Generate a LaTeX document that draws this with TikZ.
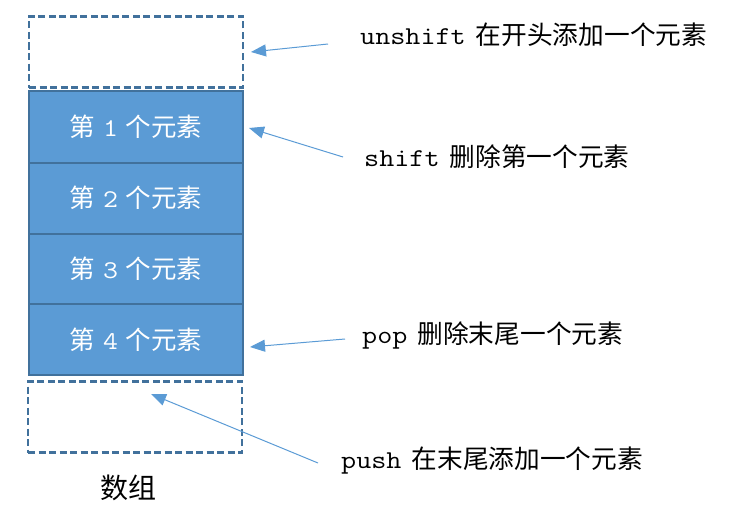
\documentclass[tikz,border=0pt]{standalone}
\usepackage{fontspec}
\setmainfont{Noto Sans CJK SC}
\setmonofont[FakeStretch=1.14]{Latin Modern Mono}
\usetikzlibrary{arrows.meta}
\definecolor{cellfill}{HTML}{5B9BD5}
\definecolor{celledge}{HTML}{41719C}
\definecolor{arrowblue}{HTML}{5B9BD5}
\tikzset{
  cell/.style={fill=cellfill, minimum width=214pt, minimum height=71pt, inner sep=0pt, text=white, font=\fontsize{25.5}{30}\selectfont},
  edge/.style={draw=celledge, line width=2pt},
  slot/.style={draw=celledge, dash pattern=on 7pt off 3.5pt, line width=2.2pt, minimum width=214pt, minimum height=71pt, inner sep=0pt},
  lbl/.style={anchor=west, inner sep=0pt, font=\fontsize{25.7}{30}\selectfont},
  conn/.style={draw=arrowblue, line width=1pt, -{Triangle[length=15pt,width=12pt]}}
}
\begin{document}
\begin{tikzpicture}[x=1pt,y=-1pt]
\useasboundingbox (0,0) rectangle (743,519);
\node[slot] (top) at (136,52) {};
\node[cell] (e1) at (136,127) {第\kern2pt{} {\ttfamily 1}\kern2pt{} 个元素};
\node[cell] (e2) at (136,198) {第\kern2pt{} {\ttfamily 2}\kern2pt{} 个元素};
\node[cell] (e3) at (136,268.5) {第\kern2pt{} {\ttfamily 3}\kern2pt{} 个元素};
\node[cell] (e4) at (136,339.5) {第\kern2pt{} {\ttfamily 4}\kern2pt{} 个元素};
\draw[edge] (e1.north west) rectangle (e4.south east);
\draw[edge] (e1.south west) -- (e1.south east);
\draw[edge] (e2.south west) -- (e2.south east);
\draw[edge] (e3.south west) -- (e3.south east);
\node[slot] (bot) at (135,417) {};
\node[inner sep=0pt, font=\fontsize{28}{32}\selectfont] (arr) at (128,488) {数组};

\node[lbl] (l1) at (360,35) {{\ttfamily unshift}\, 在开头添加一个元素};
\node[lbl] (l2) at (364,157) {{\ttfamily shift}\, 删除第一个元素};
\node[lbl] (l3) at (362,335) {{\ttfamily pop}\, 删除末尾一个元素};
\node[lbl] (l4) at (341,461) {{\ttfamily push}\, 在末尾添加一个元素};

\coordinate (s1) at (328,44);  \coordinate (t1) at (251,52);
\coordinate (s2) at (343,157); \coordinate (t2) at (249,128);
\coordinate (s3) at (345,339); \coordinate (t3) at (250,347);
\coordinate (s4) at (318,463); \coordinate (t4) at (151,394);
\draw[conn] (s1) -- (t1);
\draw[conn] (s2) -- (t2);
\draw[conn] (s3) -- (t3);
\draw[conn] (s4) -- (t4);
\end{tikzpicture}
\end{document}
